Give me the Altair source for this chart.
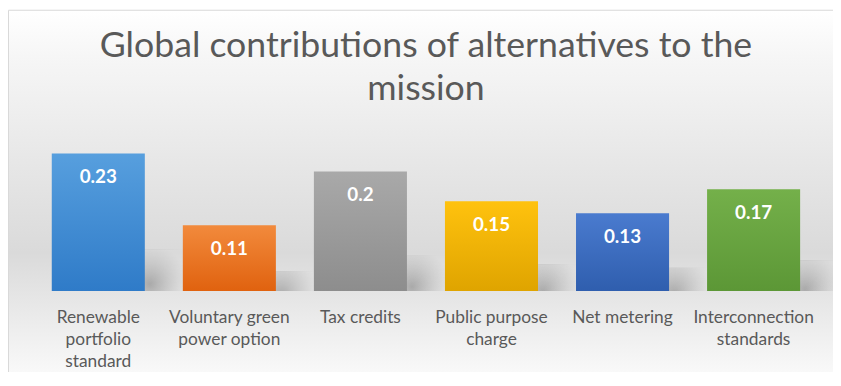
import altair as alt
import pandas as pd

# ---- data ----
categories = ["Renewable portfolio standard", "Voluntary green power option", "Tax credits",
              "Public purpose charge", "Net metering", "Interconnection standards"]
label_lines = ["Renewable|portfolio|standard", "Voluntary green|power option", "Tax credits",
               "Public purpose|charge", "Net metering", "Interconnection|standards"]
values = [0.23, 0.11, 0.2, 0.15, 0.13, 0.17]

# ---- styles ----
top_colors = ["#579fde", "#f28a3c", "#a9a9a9", "#ffc20e", "#4a7bcf", "#74b04a"]
bottom_colors = ["#2f7bc8", "#e0620f", "#8d8d8d", "#dfa400", "#2f5eae", "#5c9736"]
FONT = "Lato"
TEXT_COLOR = "#595959"

df = pd.DataFrame({"category": categories, "label": label_lines, "value": values})

x_enc = alt.X(
    "label:N",
    sort=label_lines,
    title=None,
    scale=alt.Scale(paddingInner=0.29, paddingOuter=0.145),
    axis=alt.Axis(
        labelExpr="split(datum.label, '|')",
        labelAngle=0,
        ticks=False,
        tickSize=0,
        domain=False,
        labelPadding=18,
        labelFont=FONT,
        labelFontSize=17.5,
        labelLineHeight=22,
        labelColor=TEXT_COLOR,
        labelBaseline="top",
        labelLimit=300,
        zindex=2,
    ),
)
y_enc = alt.Y("value:Q", scale=alt.Scale(domain=[0, 0.25]), axis=None)

bg_gradient = alt.Gradient(
    gradient="linear",
    x1=0, x2=0, y1=0, y2=1,
    stops=[
        alt.GradientStop(offset=0.0, color="#ffffff"),
        alt.GradientStop(offset=0.12, color="#f6f6f6"),
        alt.GradientStop(offset=0.62, color="#dadada"),
        alt.GradientStop(offset=0.8, color="#ececec"),
        alt.GradientStop(offset=0.97, color="#fdfdfd"),
        alt.GradientStop(offset=1.0, color="#ffffff"),
    ],
)
background = alt.Chart(pd.DataFrame({"a": [0]})).mark_rect(
    fill=bg_gradient, stroke="#d9d9d9", strokeWidth=1
).encode(
    x=alt.value(-24.5), x2=alt.value(830), y=alt.value(-132.5), y2=alt.value(262)
)

shadow_gradient = alt.Gradient(
    gradient="radial",
    x1=0.15, y1=0.8, r1=0,
    x2=0.15, y2=0.8, r2=0.85,
    stops=[
        alt.GradientStop(offset=0.0, color="rgba(90,90,90,0.42)"),
        alt.GradientStop(offset=0.5, color="rgba(110,110,110,0.2)"),
        alt.GradientStop(offset=1.0, color="rgba(140,140,140,0)"),
    ],
)
shadows = alt.Chart(df).transform_calculate(
    sh="datum.value * 0.3"
).mark_bar(fill=shadow_gradient, width=46, xOffset=68).encode(
    x=x_enc, y=alt.Y("sh:Q", scale=alt.Scale(domain=[0, 0.25]), axis=None)
)

bars = []
for cat, c_top, c_bot in zip(categories, top_colors, bottom_colors):
    grad = alt.Gradient(
        gradient="linear",
        x1=0, x2=0, y1=0, y2=1,
        stops=[alt.GradientStop(offset=0, color=c_top), alt.GradientStop(offset=1, color=c_bot)],
    )
    bars.append(
        alt.Chart(df)
        .transform_filter(alt.datum.category == cat)
        .mark_bar(fill=grad)
        .encode(x=x_enc, y=y_enc)
    )

texts = alt.Chart(df).mark_text(
    color="white", font=FONT, fontWeight="bold", fontSize=19, baseline="alphabetic", dy=30
).encode(x=x_enc, y=y_enc, text=alt.Text("value:Q", format=".2~f"))

chart = alt.layer(background, shadows, *bars, texts).properties(
    width=794,
    height=151,
    padding={"left": 25, "top": 133, "right": 14, "bottom": 80},
    autosize="none",
    title=alt.TitleParams(
        text=["Global contributions of alternatives to the", "mission"],
        font=FONT,
        fontSize=36,
        fontWeight="normal",
        color=TEXT_COLOR,
        anchor="middle",
        frame="group",
        baseline="alphabetic",
        offset=-127.5,
        lineHeight=44,
    ),
).configure_view(stroke=None).configure(background="white")

chart.save("out.html", embed_options={"renderer": "svg", "actions": False})
